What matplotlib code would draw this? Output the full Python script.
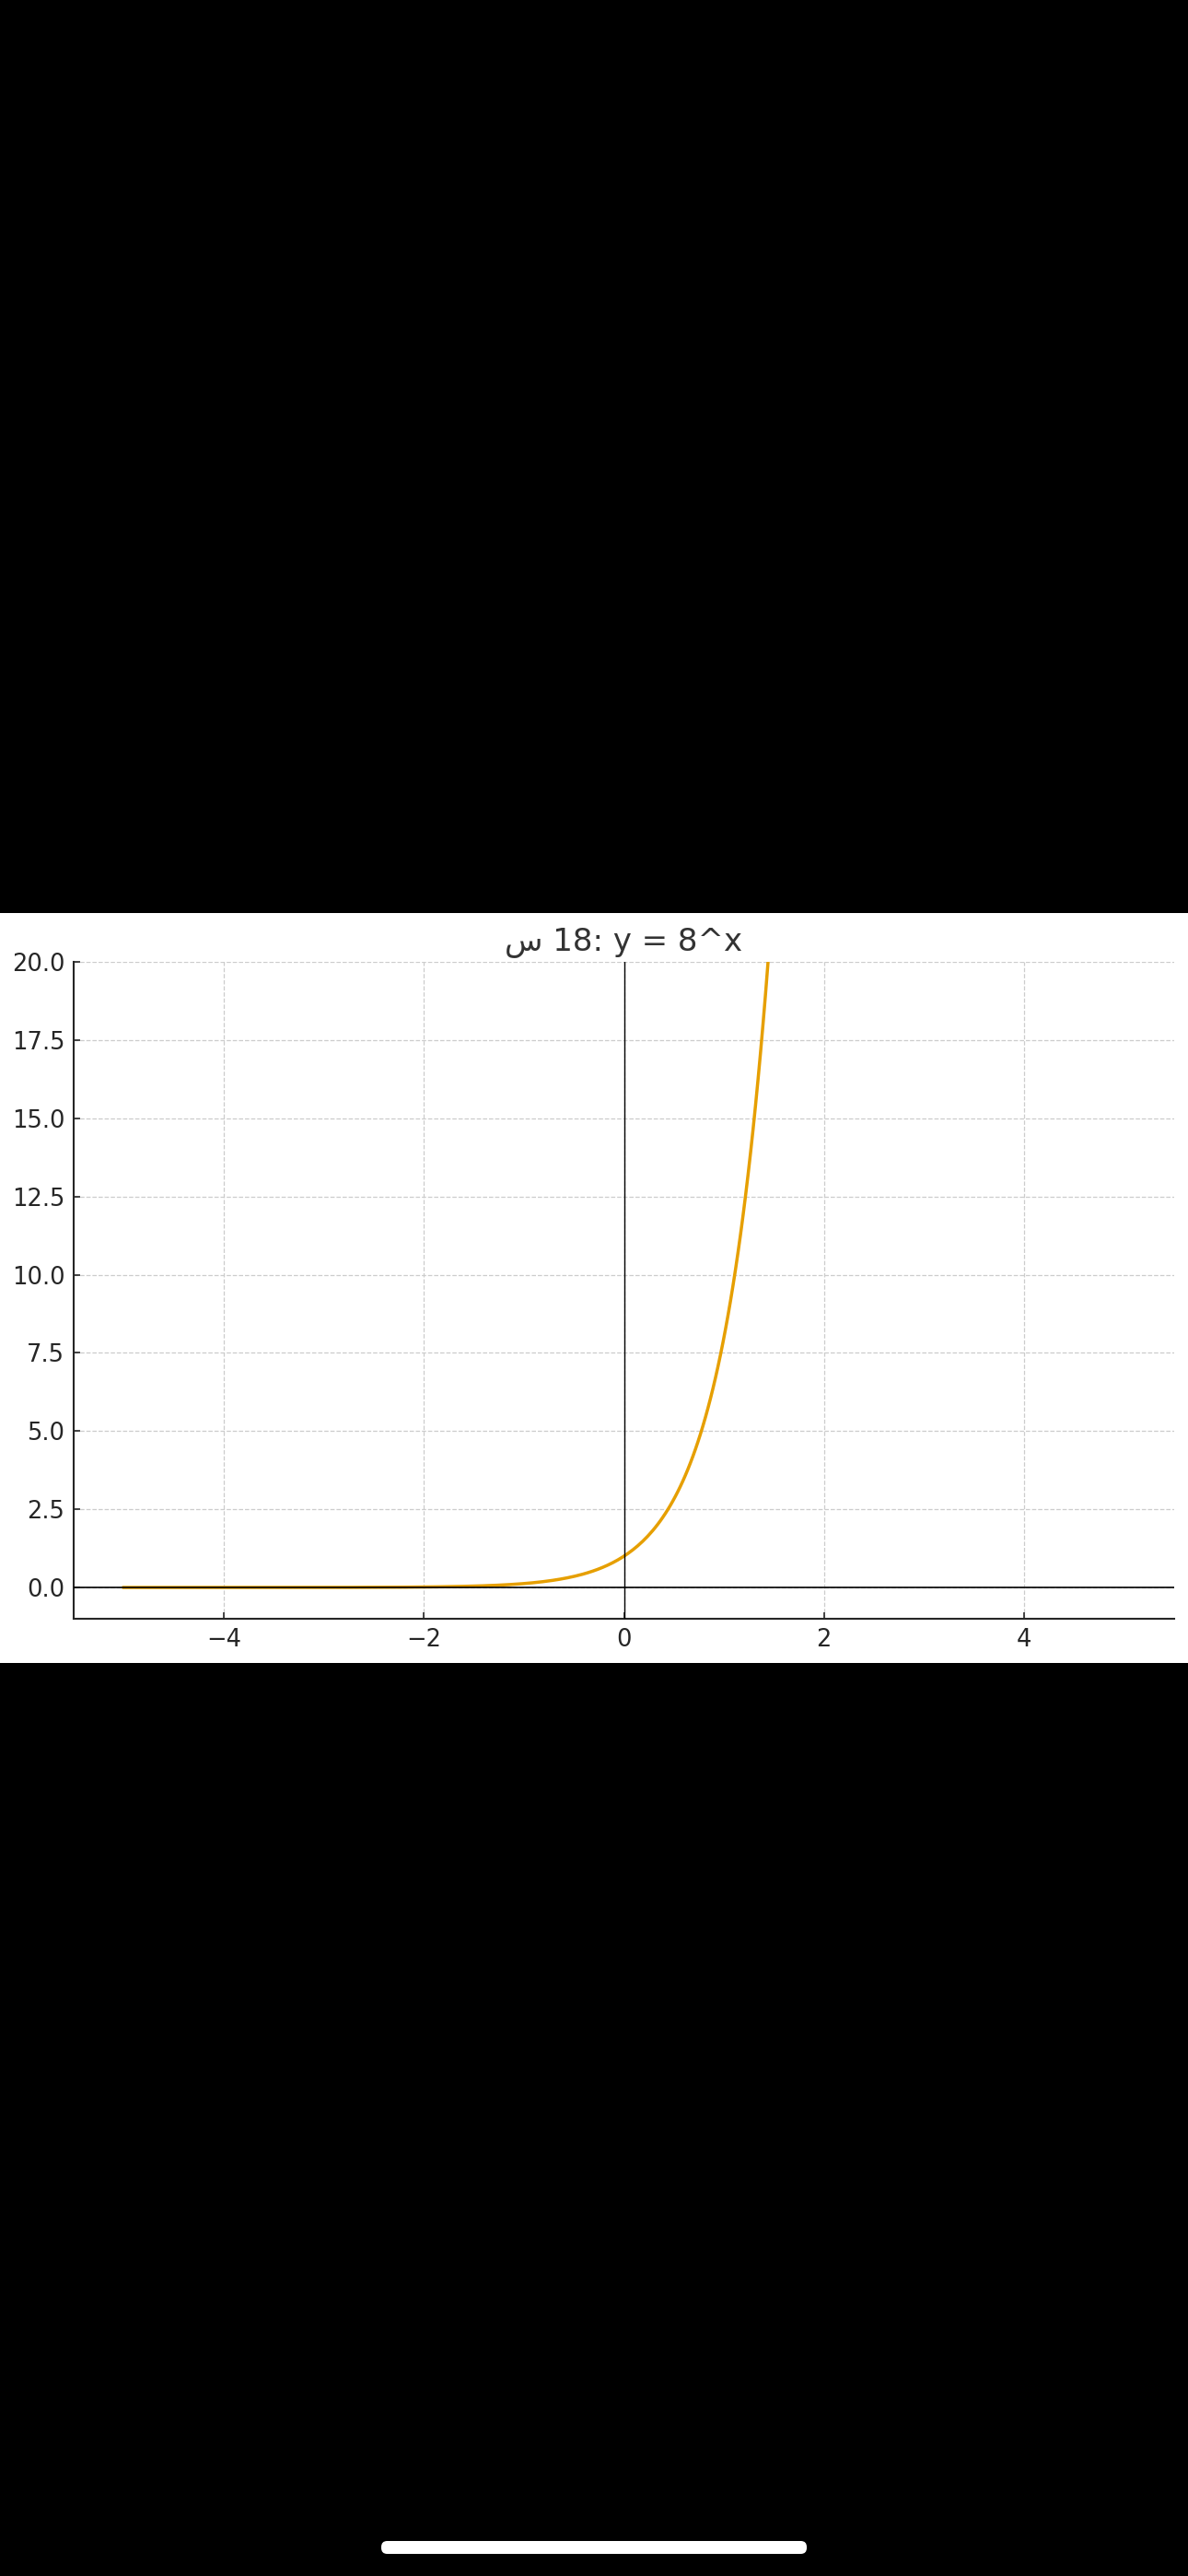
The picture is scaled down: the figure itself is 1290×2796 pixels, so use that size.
import numpy as np
import matplotlib
matplotlib.use("Agg")
import matplotlib.pyplot as plt
from matplotlib.patches import Rectangle, FancyBboxPatch

# Funzione tracciata: y = base^x
base = 8
x_start, x_end = -5, 5
n_points = 400
title_text = "س 18: y = 8^x"

x_ticks = [-4, -2, 0, 2, 4]
y_ticks = [0.0, 2.5, 5.0, 7.5, 10.0, 12.5, 15.0, 17.5, 20.0]
x_lim = (-5.5, 5.5)
y_lim = (-1, 20)

x = np.linspace(x_start, x_end, n_points)
y = np.power(float(base), x)

W, H = 1290, 2796
fig = plt.figure(figsize=(W / 100, H / 100), dpi=100)
fig.patch.set_facecolor("black")

# pannello bianco dello screenshot
fig.patches.append(Rectangle((0, 1 - 1805 / H), 1, 814 / H,
                             transform=fig.transFigure, facecolor="white",
                             edgecolor="none", zorder=-5))
# barra home
fig.patches.append(FancyBboxPatch((414 / W, 1 - 2772 / H), 462 / W, 14 / H,
                                  boxstyle="round,pad=0,rounding_size=0.005",
                                  transform=fig.transFigure, facecolor="white",
                                  edgecolor="none", zorder=-5,
                                  mutation_aspect=W / H))

ax = fig.add_axes([80 / W, 1 - 1757 / H, (1275 - 80) / W, (1757 - 1044) / H])
ax.set_zorder(2)
ax.set_facecolor("white")

ax.plot(x, y, color="#E69F00", lw=2.5, zorder=2)
ax.axhline(0, color="black", lw=1.2, zorder=3)
ax.axvline(0, color="black", lw=1.0, zorder=3)

ax.set_xlim(*x_lim)
ax.set_ylim(*y_lim)
ax.set_xticks(x_ticks)
ax.set_yticks(y_ticks)
ax.set_xticklabels([f"{t:d}".replace("-", "\u2212") for t in x_ticks])
ax.set_yticklabels([f"{t:.1f}" for t in y_ticks])

ax.grid(True, linestyle="--", color="#cccccc", linewidth=0.9)
ax.set_axisbelow(True)
for s in ["top", "right"]:
    ax.spines[s].set_visible(False)
for s in ["left", "bottom"]:
    ax.spines[s].set_linewidth(1.5)
    ax.spines[s].set_color("#262626")

ax.tick_params(direction="in", length=5, width=1.2, color="#262626",
               labelsize=18.5, labelcolor="#262626", pad=7)

ax.set_title(title_text, fontsize=24.5, color="#333333", pad=9)

fig.savefig("out.png", dpi=100, facecolor=fig.get_facecolor())
